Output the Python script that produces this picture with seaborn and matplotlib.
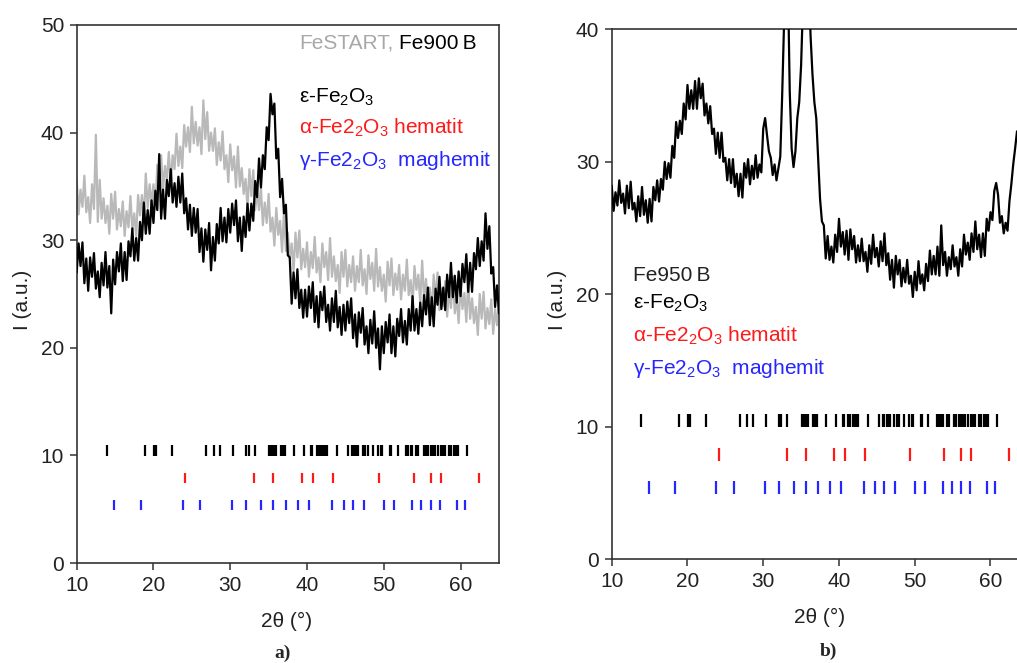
import numpy as np
import pandas as pd
import matplotlib
matplotlib.use("Agg")
import matplotlib.pyplot as plt
import seaborn as sns

# ---------------- data ----------------
two_theta_start = 10.0
two_theta_step = 0.25

# panel a) FeSTART (grey), 2theta = 10 ... 65 step 0.25
festart_I = [
    35.7, 32.4, 34.7, 33.1,
    36.0, 32.6, 34.0, 31.6,
    35.2, 32.9, 39.8, 31.7,
    35.6, 32.0, 33.9, 31.6,
    33.2, 30.6, 34.3, 32.0,
    34.5, 31.0, 32.9, 31.3,
    33.6, 30.4, 32.7, 31.2,
    34.1, 30.9, 32.5, 30.4,
    34.2, 32.3, 34.2, 31.9,
    36.2, 33.0, 35.2, 33.3,
    35.2, 32.9, 37.0, 35.1,
    37.9, 34.7, 36.9, 35.6,
    38.2, 35.2, 37.9, 36.6,
    39.9, 36.9, 38.7, 36.7,
    40.7, 38.7, 40.5, 38.2,
    42.4, 39.0, 41.0, 38.8,
    40.5, 38.0, 43.0, 39.4,
    41.9, 38.3, 40.0, 38.3,
    40.4, 37.0, 39.1, 37.4,
    40.1, 36.6, 37.9, 35.4,
    38.9, 36.5, 37.8, 34.9,
    38.7, 35.0, 36.7, 34.3,
    35.7, 33.0, 36.6, 34.1,
    36.5, 32.8, 34.5, 32.8,
    34.9, 31.4, 33.5, 31.6,
    34.3, 30.8, 32.1, 29.5,
    33.0, 30.5, 31.8, 28.9,
    32.7, 29.0, 30.7, 28.3,
    29.7, 27.1, 30.7, 28.4,
    30.9, 27.3, 29.2, 27.5,
    29.8, 26.6, 28.9, 27.4,
    30.3, 27.0, 28.4, 26.1,
    29.7, 27.5, 28.9, 26.3,
    30.2, 26.6, 28.5, 26.2,
    27.7, 25.1, 28.9, 26.6,
    29.1, 25.7, 27.7, 26.1,
    28.5, 25.3, 27.6, 26.1,
    29.1, 25.8, 27.3, 25.0,
    28.6, 26.4, 27.9, 25.3,
    29.2, 25.7, 27.5, 25.3,
    26.8, 24.3, 28.0, 25.8,
    28.3, 24.9, 26.9, 25.4,
    27.7, 24.5, 26.8, 25.3,
    28.2, 24.9, 26.3, 24.0,
    27.6, 25.4, 26.8, 24.2,
    28.1, 24.5, 26.4, 24.1,
    25.6, 23.0, 26.8, 24.5,
    27.0, 23.5, 25.5, 23.9,
    26.2, 22.9, 25.3, 23.7,
    26.6, 23.2, 24.7, 22.3,
    25.9, 23.6, 25.1, 22.4,
    26.3, 22.7, 24.6, 22.3,
    23.8, 21.2, 25.0, 22.7,
    25.2, 21.8, 23.7, 22.2,
    24.5, 21.3, 23.6, 22.1,
    24.0,
]

# panel a) Fe900 B (black), 2theta = 10 ... 65 step 0.25
fe900b_I = [
    27.0, 29.7, 27.6, 29.8,
    26.0, 28.3, 25.3, 28.4,
    26.6, 28.8, 25.5, 27.1,
    24.7, 27.9, 25.8, 28.9,
    25.6, 27.6, 23.2, 28.2,
    25.9, 28.9, 27.1, 29.7,
    26.2, 28.9, 26.3, 29.9,
    28.5, 31.1, 28.1, 30.2,
    28.1, 31.7, 30.0, 33.5,
    30.6, 32.8, 30.6, 33.7,
    31.6, 34.6, 32.8, 38.0,
    32.0, 34.7, 32.0, 35.6,
    34.1, 36.6, 33.5, 35.3,
    33.1, 35.9, 33.5, 36.2,
    32.5, 33.9, 31.0, 33.3,
    30.4, 33.0, 30.7, 32.9,
    28.9, 31.1, 28.0, 31.0,
    29.1, 31.6, 27.2, 30.3,
    28.1, 31.5, 29.7, 33.0,
    29.9, 32.1, 29.8, 32.9,
    30.7, 33.4, 31.4, 33.7,
    29.9, 32.1, 29.0, 32.2,
    30.3, 33.4, 30.9, 33.4,
    31.8, 35.5, 34.0, 37.6,
    34.9, 37.9, 36.6, 40.5,
    39.3, 43.6, 41.7, 42.7,
    37.6, 38.5, 34.0, 35.7,
    32.5, 33.3, 28.6, 28.4,
    24.1, 27.0, 24.6, 27.3,
    23.7, 25.4, 22.8, 25.4,
    22.9, 25.7, 23.7, 26.1,
    22.4, 24.8, 21.9, 25.2,
    23.5, 25.7, 22.4, 24.0,
    21.6, 24.6, 22.4, 25.3,
    21.9, 23.8, 21.2, 24.0,
    21.6, 24.3, 22.3, 24.6,
    20.9, 23.1, 20.1, 23.3,
    21.4, 23.7, 20.3, 22.0,
    19.5, 22.6, 20.4, 23.4,
    20.0, 21.8, 18.0, 22.0,
    19.5, 22.4, 20.5, 23.1,
    19.5, 22.0, 19.2, 22.7,
    21.1, 23.6, 20.5, 22.5,
    20.3, 23.6, 21.6, 24.8,
    21.6, 23.6, 21.3, 24.2,
    22.0, 24.9, 23.1, 25.6,
    22.1, 24.7, 22.0, 25.5,
    24.0, 26.6, 23.6, 25.6,
    23.5, 26.8, 24.7, 27.9,
    24.7, 26.7, 24.2, 27.1,
    24.8, 27.8, 26.1, 28.7,
    25.2, 27.9, 25.2, 28.8,
    27.3, 30.2, 27.6, 29.9,
    28.1, 32.5, 29.2, 31.3,
    26.9, 27.5, 23.8, 25.8,
    23.2,
]

# panel b) Fe950 B (black), 2theta = 10 ... 63.5 step 0.25
fe950b_I = [
    28.2, 26.3, 27.7, 26.7,
    28.6, 26.9, 27.6, 26.1,
    28.2, 26.5, 28.5, 26.4,
    26.9, 25.5, 27.4, 25.9,
    28.1, 26.0, 27.1, 25.4,
    27.2, 25.5, 28.1, 27.1,
    28.6, 27.0, 28.7, 27.9,
    30.0, 28.7, 29.9, 28.8,
    31.2, 30.3, 33.0, 31.8,
    33.1, 32.1, 34.4, 33.2,
    35.8, 34.0, 35.4, 34.0,
    36.1, 34.0, 36.3, 34.8,
    35.9, 33.5, 34.4, 32.9,
    34.2, 32.1, 32.5, 30.6,
    32.2, 30.3, 32.2, 30.0,
    30.3, 28.6, 30.2, 28.4,
    30.2, 28.1, 29.1, 27.4,
    29.1, 27.3, 29.9, 28.8,
    30.2, 28.3, 29.7, 28.7,
    30.5, 28.8, 29.8, 29.2,
    32.5, 33.3, 32.0, 30.8,
    30.3, 29.0, 29.8, 28.6,
    29.5, 30.4, 35.0, 40.5,
    48.0, 44.0, 35.3, 31.0,
    29.6, 30.8, 33.3, 34.5,
    37.3, 42.0, 48.0, 52.0,
    44.0, 39.5, 36.6, 34.5,
    33.3, 30.3, 27.2, 25.5,
    25.2, 22.7, 24.4, 22.6,
    23.6, 22.4, 24.5, 23.2,
    25.7, 23.6, 24.7, 23.0,
    24.8, 22.6, 24.9, 23.4,
    24.4, 22.4, 23.7, 22.5,
    24.2, 22.5, 23.2, 21.7,
    23.7, 22.3, 24.5, 22.8,
    23.5, 22.1, 24.0, 22.5,
    24.6, 22.2, 23.1, 21.1,
    22.6, 20.5, 22.9, 21.5,
    22.6, 20.6, 22.0, 20.9,
    22.6, 20.8, 21.4, 19.8,
    21.7, 20.3, 22.5, 20.8,
    21.5, 20.3, 22.3, 21.0,
    23.3, 21.5, 22.9, 21.5,
    23.6, 21.4, 25.2, 22.2,
    23.2, 21.4, 22.8, 21.9,
    23.7, 22.1, 22.8, 21.4,
    23.4, 22.1, 24.5, 23.0,
    23.9, 22.6, 24.6, 23.2,
    25.5, 23.4, 24.5, 22.8,
    24.6, 22.9, 25.7, 24.8,
    26.2, 25.6, 27.8, 28.4,
    27.5, 25.4, 25.9, 24.6,
    25.4, 24.8, 27.0, 28.3,
    29.8, 31.0, 32.3,
]

# reference reflections (2theta, deg)
eps_peaks = [13.9, 18.9, 20.1, 20.3, 22.4, 26.9, 27.9, 28.7, 30.3, 32.1, 32.4,
             33.2, 35.1, 35.3, 35.5, 35.7, 35.9, 36.6, 36.9, 37.1, 38.35, 39.65,
             40.5, 40.7, 41.25, 41.5, 41.8, 42.1, 42.35, 42.55, 43.85, 45.3,
             45.8, 46.0, 46.3, 46.5, 46.7, 47.3, 47.6, 47.9, 48.6, 49.3, 49.6,
             49.8, 50.8, 51.0, 51.8, 52.9, 53.2, 53.5, 53.7, 54.2, 54.5, 55.2,
             55.5, 55.8, 56.1, 56.4, 56.7, 57.0, 57.4, 57.7, 58.0, 58.5, 58.8,
             59.1, 59.4, 59.7, 60.8]
hem_peaks = [24.1, 33.1, 35.6, 39.3, 40.8, 43.4, 49.4, 53.9, 56.1, 57.4, 62.4]
mag_peaks = [14.9, 18.4, 23.8, 26.1, 30.2, 32.1, 34.0, 35.6, 37.2, 38.8, 40.3,
             43.3, 44.8, 46.0, 47.4, 50.0, 51.3, 53.7, 54.9, 56.1, 57.3, 59.6,
             60.6]

x_ticks = [10, 20, 30, 40, 50, 60]
y_ticks_a = [0, 10, 20, 30, 40, 50]
y_ticks_b = [0, 10, 20, 30, 40]

# ---------------- style ----------------
sns.set_style("ticks")
plt.rcParams['font.family'] = ['Liberation Sans', 'DejaVu Sans']
plt.rcParams['mathtext.fontset'] = 'custom'
plt.rcParams['mathtext.rm'] = 'Liberation Sans'
plt.rcParams['mathtext.it'] = 'Liberation Sans:italic'
plt.rcParams['mathtext.bf'] = 'Liberation Sans:bold'

GREY = '#b9b9b9'
RED = '#ff1a1a'
BLUE = '#2626ff'
TXT = '#222222'
FS = 15

fig = plt.figure(figsize=(10.17, 6.63), dpi=100)
axL = fig.add_axes([0.0754, 0.1508, 0.4152, 0.8115])
axR = fig.add_axes([0.6015, 0.1564, 0.3985, 0.7994])

xa = two_theta_start + two_theta_step * np.arange(len(festart_I))
xb = two_theta_start + two_theta_step * np.arange(len(fe950b_I))
df_a = pd.DataFrame({'tt': xa, 'FeSTART': festart_I, 'Fe900B': fe900b_I})
df_b = pd.DataFrame({'tt': xb, 'Fe950B': fe950b_I})

sns.lineplot(data=df_a, x='tt', y='FeSTART', ax=axL, color=GREY, lw=1.6,
             estimator=None, sort=False, zorder=2)
sns.lineplot(data=df_a, x='tt', y='Fe900B', ax=axL, color='black', lw=1.6,
             estimator=None, sort=False, zorder=3)
sns.lineplot(data=df_b, x='tt', y='Fe950B', ax=axR, color='black', lw=1.6,
             estimator=None, sort=False, zorder=3)


def phase_marks(ax):
    ax.vlines(eps_peaks, 9.95, 10.95, colors='black', lw=1.6, zorder=4)
    ax.vlines(hem_peaks, 7.4, 8.4, colors=RED, lw=1.6, zorder=4)
    ax.vlines(mag_peaks, 4.9, 5.9, colors=BLUE, lw=1.6, zorder=4)


phase_marks(axL)
phase_marks(axR)

for ax, yt in ((axL, y_ticks_a), (axR, y_ticks_b)):
    ax.set_xticks(x_ticks)
    ax.set_yticks(yt)
    ax.tick_params(direction='out', length=5, width=1.1, color='#333333',
                   labelsize=FS, labelcolor=TXT, pad=4)
    ax.set_xlabel('2θ (°)', fontsize=FS, color=TXT)
    ax.set_ylabel('I (a.u.)', fontsize=FS, color=TXT)
    for s in ax.spines.values():
        s.set_color('#333333')
        s.set_linewidth(1.2)

axL.xaxis.set_label_coords(0.498, -0.09)
axL.yaxis.set_label_coords(-0.106, 0.49)
axR.xaxis.set_label_coords(0.514, -0.091)
axR.yaxis.set_label_coords(-0.110, 0.49)

axL.set_xlim(10, 65)
axL.set_ylim(0, 50)
axR.set_xlim(10, 63.5)
axR.set_ylim(0, 40)
axR.spines['right'].set_visible(False)

# annotations panel a
t_grey = axL.text(39.0, 48.3, 'FeSTART,', color='#a8a8a8', fontsize=FS,
                  ha='left', va='center')
axL.annotate('Fe900\u2009B', xy=(1, 0.5), xycoords=t_grey, xytext=(4, 0),
             textcoords='offset points', color='black', fontsize=FS,
             ha='left', va='center')
axL.text(39.0, 43.3, 'ε-Fe$_2$O$_3$', color='black', fontsize=FS, ha='left', va='center')
axL.text(39.0, 40.4, 'α-Fe2$_2$O$_3$ hematit', color=RED, fontsize=FS, ha='left', va='center')
axL.text(39.0, 37.4, 'γ-Fe2$_2$O$_3$  maghemit', color=BLUE, fontsize=FS, ha='left', va='center')

# annotations panel b
axR.text(12.8, 21.4, 'Fe950\u2009B', color=TXT, fontsize=FS, ha='left', va='center')
axR.text(12.8, 19.3, 'ε-Fe$_2$O$_3$', color='black', fontsize=FS, ha='left', va='center')
axR.text(12.8, 16.9, 'α-Fe2$_2$O$_3$ hematit', color=RED, fontsize=FS, ha='left', va='center')
axR.text(12.8, 14.4, 'γ-Fe2$_2$O$_3$  maghemit', color=BLUE, fontsize=FS, ha='left', va='center')

# panel letters
fig.text(283 / 1017, 1 - 653 / 663, 'a)', fontsize=14, fontweight='bold',
         family=['Liberation Serif', 'DejaVu Serif'], ha='center', va='center')
fig.text(828 / 1017, 1 - 651 / 663, 'b)', fontsize=14, fontweight='bold',
         family=['Liberation Serif', 'DejaVu Serif'], ha='center', va='center')

fig.savefig('out.png', dpi=100)
